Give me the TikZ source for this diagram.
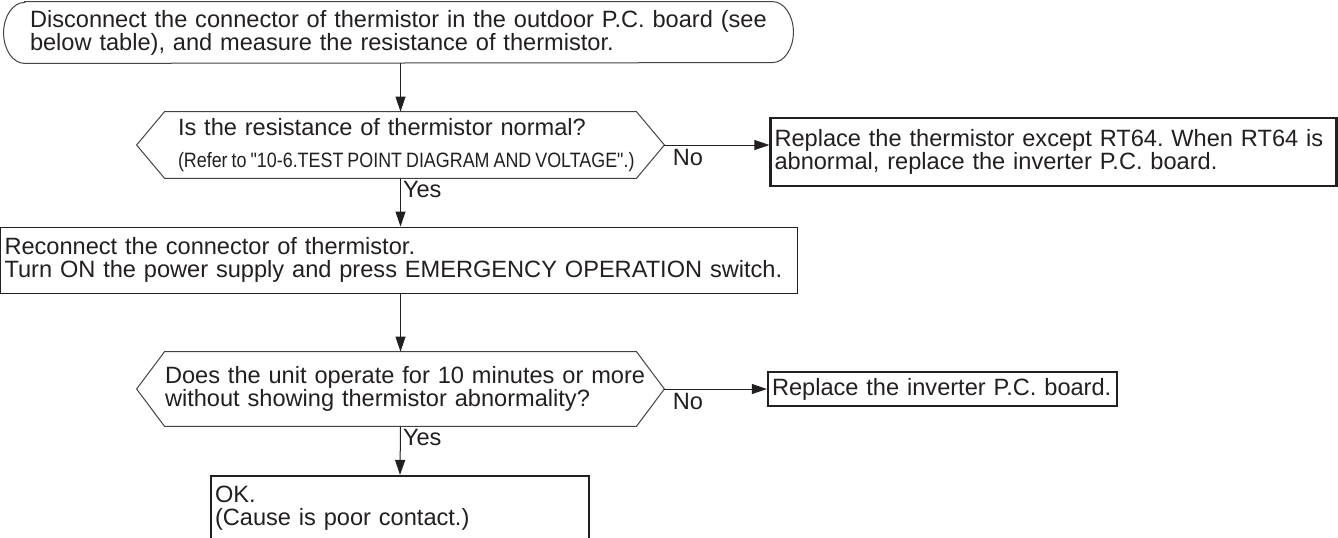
\documentclass[tikz,border=0pt]{standalone}
\usepackage{fontspec}
\setmainfont{Liberation Sans}
\newfontfamily\narrowfont[FakeStretch=0.86]{Liberation Sans}
\usetikzlibrary{arrows.meta,calc}
\definecolor{ink}{HTML}{231F20}
\frenchspacing

\begin{document}
\begin{tikzpicture}[
  x=0.5pt, y=0.5pt,
  txt/.style={font=\fontsize{11.8}{11.6}\selectfont, text=ink, align=left, inner ysep=0pt},
  thinbox/.style={txt, draw=ink, line width=0.5pt},
  boldbox/.style={txt, draw=ink, line width=1.1pt},
  hexline/.style={draw=ink!85, line width=0.5pt},
  arr/.style={draw=ink, line width=0.5pt, -{Triangle[length=7.5pt,width=5pt]}},
  lbl/.style={font=\fontsize{11.8}{11.6}\selectfont, text=ink, inner sep=1pt},
]
\useasboundingbox (0,0) rectangle (1338,-537);

% ====== Start: disconnect and measure ======
\node[txt, text width=368.5pt, inner xsep=2.5pt, minimum height=30.5pt] (start) at (398.5,-32.5)
  {\mbox{Disconnect the connector of thermistor in the outdoor P.C. board (see}\\
   \mbox{below table), and measure the resistance of thermistor.}};
\draw[hexline] (start.north west) -- (start.north east)
  arc[start angle=90, end angle=-90, x radius=21, y radius=30.5]
  -- (start.south west)
  arc[start angle=270, end angle=90, x radius=21, y radius=30.5] -- cycle;

% ====== Decision 1: resistance normal? ======
\node[txt, text width=222.5pt, inner xsep=6.5pt, minimum height=33pt] (dec1) at (400.5,-145)
  {\mbox{Is the resistance of thermistor normal?}\\[4pt]
   \mbox{\narrowfont\fontsize{10.4}{10}\selectfont\spaceskip=2pt
     (Refer to "10-6.TEST POINT DIAGRAM AND VOLTAGE".)}};
\coordinate (dec1tip) at ($(dec1.east)+(28,0)$);
\draw[hexline] (dec1.north west) -- (dec1.north east) -- (dec1tip) -- (dec1.south east)
  -- (dec1.south west) -- ($(dec1.west)+(-28,0)$) -- cycle;

\node[boldbox, text width=279pt, inner xsep=2pt, minimum height=34pt] (box1) at (1053.5,-152)
  {\mbox{Replace the thermistor except RT64. When RT64 is}\\
   \mbox{abnormal, replace the inverter P.C. board.}};

% ====== Reconnect and run ======
\node[thinbox, text width=394.5pt, inner xsep=2pt, minimum height=33pt] (box2) at (399,-260)
  {\mbox{Reconnect the connector of thermistor.}\\
   \mbox{Turn ON the power supply and press EMERGENCY OPERATION switch.}};

% ====== Decision 2: 10 minutes without abnormality? ======
\node[txt, text width=235.5pt, inner xsep=0pt, minimum height=37pt] (dec2) at (400.5,-389)
  {\mbox{Does the unit operate for 10 minutes or more}\\
   \mbox{without showing thermistor abnormality?}};
\coordinate (dec2tip) at ($(dec2.east)+(28,0)$);
\draw[hexline] (dec2.north west) -- (dec2.north east) -- (dec2tip) -- (dec2.south east)
  -- (dec2.south west) -- ($(dec2.west)+(-28,0)$) -- cycle;

\node[boldbox, text width=170.5pt, inner xsep=2pt, minimum height=17pt] (box3) at (942.5,-389)
  {\mbox{Replace the inverter P.C. board.}};

\node[boldbox, text width=185pt, inner xsep=2pt, minimum height=32pt] (okbox) at (400,-508)
  {OK.\\(Cause is poor contact.)};

% ====== Connectors ======
\draw[arr] (start.south -| dec1.north) -- (dec1.north);
\draw[arr] (dec1.south) -- (dec1.south |- box2.north)
  node[lbl, pos=0, anchor=north west] {Yes};
\draw[arr] (dec1tip) -- (dec1tip -| box1.west)
  node[lbl, pos=0, anchor=north west, xshift=3pt, yshift=-1pt] {No};
\draw[arr] (box2.south -| dec2.north) -- (dec2.north);
\draw[arr] (dec2tip) -- (box3.west)
  node[lbl, pos=0, anchor=north west, xshift=3pt, yshift=-1pt] {No};
\draw[arr] (dec2.south) -- (okbox.north)
  node[lbl, pos=0, anchor=north west] {Yes};

\end{tikzpicture}
\end{document}
